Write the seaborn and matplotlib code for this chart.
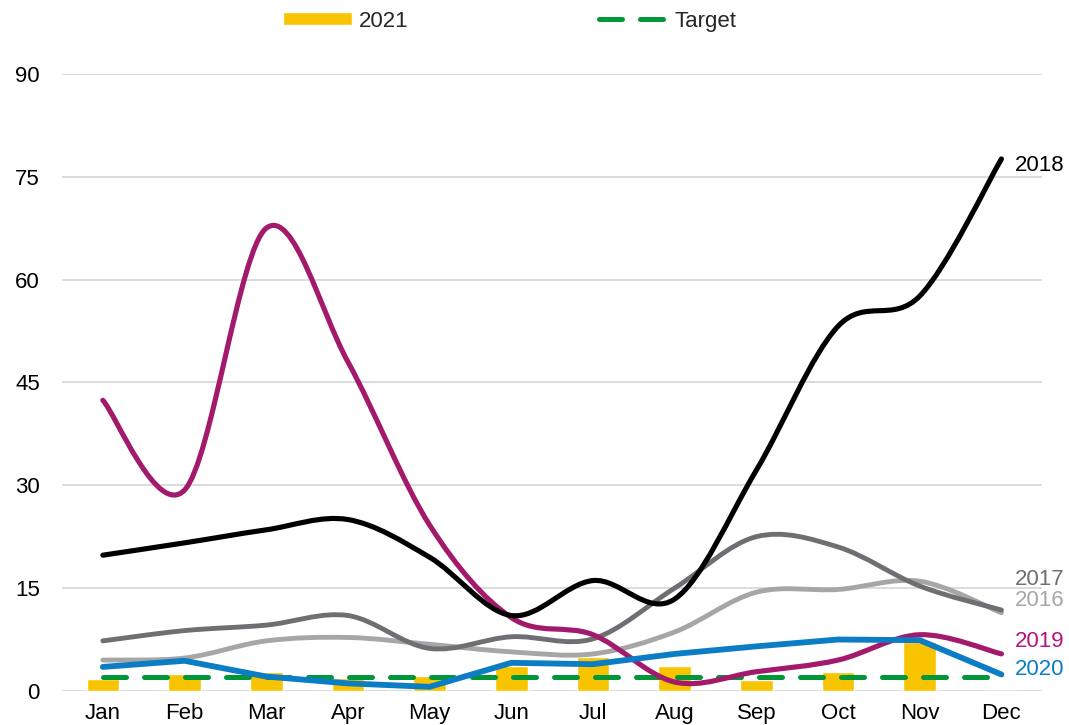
import numpy as np
import pandas as pd
import seaborn as sns
import matplotlib.pyplot as plt
from matplotlib.path import Path
from matplotlib.patches import PathPatch, Patch
from matplotlib.lines import Line2D

months = ['Jan', 'Feb', 'Mar', 'Apr', 'May', 'Jun', 'Jul', 'Aug', 'Sep', 'Oct', 'Nov', 'Dec']

v2016 = [4.5, 4.8, 7.3, 7.8, 6.8, 5.7, 5.4, 8.6, 14.4, 14.8, 16.0, 11.4]
v2017 = [7.3, 8.8, 9.6, 11.0, 6.2, 7.9, 7.6, 15.0, 22.5, 21.0, 15.3, 11.8]
v2018 = [19.8, 21.6, 23.5, 25.0, 19.5, 11.0, 16.1, 13.4, 32.2, 53.2, 57.6, 77.6]
v2019 = [42.4, 29.3, 67.5, 48.0, 24.2, 10.7, 8.2, 1.3, 2.8, 4.5, 8.2, 5.4]
v2020 = [3.5, 4.4, 2.1, 1.1, 0.6, 4.1, 3.9, 5.4, 6.5, 7.5, 7.4, 2.4]
v2021 = [1.7, 2.5, 2.7, 1.9, 2.2, 3.6, 4.9, 3.6, 1.6, 2.8, 7.2, 0.0]
target = [2, 2, 2, 2, 2, 2, 2, 2, 2, 2, 2, 2]

c2016 = '#A6A6A6'
c2017 = '#6E6F72'
c2018 = '#000000'
c2019 = '#A3196C'
c2020 = '#0B7DC4'
c2021 = '#F8C400'
ctarget = '#009639'
fs = 16

sns.set_style('white')
plt.rcParams['font.family'] = ['Liberation Sans', 'DejaVu Sans']

fig = plt.figure(figsize=(10.69, 7.25), dpi=100)
ax = fig.add_axes([0.058, 0.047, 0.917, 0.851])

df = pd.DataFrame({'month': months, 'v2021': v2021})
sns.barplot(data=df, x='month', y='v2021', color=c2021, width=0.4,
            saturation=1, ax=ax, zorder=2)

x = np.arange(len(months))
sns.lineplot(x=x, y=target, color=ctarget, lw=3.6, ax=ax, zorder=3,
             dashes=False, sort=False)
ax.lines[-1].set_dashes([4.6, 3.6])
ax.lines[-1].set_dash_capstyle('round')


def smooth_line(ax, xs, ys, color, lw):
    # Excel-style smoothed line: cubic Bezier through each point
    pts = np.column_stack([xs, ys]).astype(float)
    n = len(pts)
    verts = [pts[0]]
    codes = [Path.MOVETO]
    for i in range(n - 1):
        p0 = pts[i - 1] if i > 0 else pts[i]
        p1 = pts[i]
        p2 = pts[i + 1]
        p3 = pts[i + 2] if i + 2 < n else pts[i + 1]
        verts += [p1 + (p2 - p0) / 6, p2 - (p3 - p1) / 6, p2]
        codes += [Path.CURVE4] * 3
    patch = PathPatch(Path(verts, codes), facecolor='none', edgecolor=color,
                      lw=lw, capstyle='round', joinstyle='round', zorder=4)
    ax.add_patch(patch)


smooth_line(ax, x, v2016, c2016, 3.5)
smooth_line(ax, x, v2017, c2017, 3.5)
smooth_line(ax, x, v2019, c2019, 3.7)
smooth_line(ax, x, v2018, c2018, 3.7)

sns.lineplot(x=x, y=v2020, color=c2020, lw=4.2, ax=ax, zorder=5, sort=False)
ax.lines[-1].set_solid_capstyle('round')
ax.lines[-1].set_solid_joinstyle('round')

label_years = ['2018', '2017', '2016', '2019', '2020']
label_y = [76.6, 16.3, 13.2, 7.2, 3.1]
label_colors = [c2018, c2017, c2016, '#B5137E', c2020]
for txt, yy, col in zip(label_years, label_y, label_colors):
    ax.text(11.16, yy, txt, color=col, fontsize=fs, va='center', ha='left')

ax.set_xlim(-0.5, 11.5)
ax.set_ylim(0, 90)
ax.set_yticks([0, 15, 30, 45, 60, 75, 90])
ax.set_xlabel('')
ax.set_ylabel('')
ax.tick_params(axis='both', length=0, labelsize=fs, colors='black')
ax.tick_params(axis='y', pad=16)
ax.tick_params(axis='x', pad=9)
ax.yaxis.grid(True, color='#D9D9D9', lw=1.3, zorder=0)
ax.set_axisbelow(True)
for s in ax.spines.values():
    s.set_visible(False)

handles = [Patch(facecolor=c2021, label='2021'),
           Line2D([0], [0], color=ctarget, lw=3.6, dashes=[4.6, 3.6],
                  dash_capstyle='round', label='Target')]
fig.legend(handles=handles, loc='center', bbox_to_anchor=(0.477, 0.971), ncol=2,
           frameon=False, fontsize=fs, handlelength=3.1, handleheight=0.55,
           columnspacing=8.6, handletextpad=0.3)

fig.savefig('out.png', dpi=100)
